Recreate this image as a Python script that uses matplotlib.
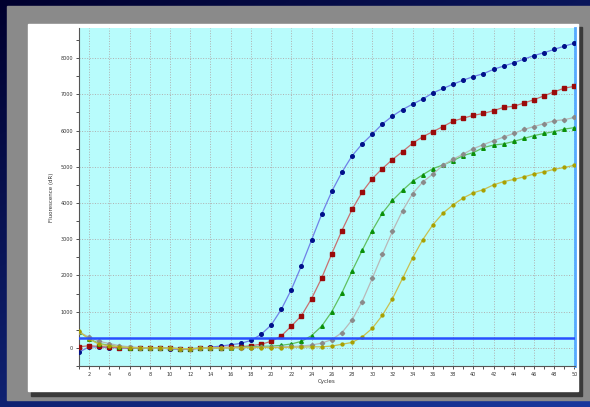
import numpy as np
import matplotlib
matplotlib.use("Agg")
import matplotlib.pyplot as plt
from matplotlib.patches import Rectangle

cycles = list(range(1, 51))

blue = [-120, 30, 20, 10, 0, -10, 0, 10, 0, -30, -40, -30, -10, 20, 50, 85, 125, 205, 370, 630,
        1060, 1610, 2270, 2980, 3690, 4320, 4850, 5300, 5630, 5900, 6180, 6400, 6580, 6730, 6870,
        7040, 7160, 7280, 7390, 7490, 7570, 7690, 7780, 7870, 7970, 8070, 8150, 8240, 8330, 8410]
red = [30, 60, 40, 20, 10, -10, 0, 0, 10, -10, -20, -30, -10, 0, 10, 20, 30, 60, 100, 180,
       330, 600, 890, 1360, 1930, 2600, 3240, 3820, 4300, 4670, 4950, 5200, 5420, 5650, 5830,
       5970, 6110, 6260, 6340, 6420, 6470, 6550, 6640, 6670, 6760, 6850, 6960, 7070, 7170, 7220]
green = [450, 250, 120, 70, 30, 10, 0, 0, 0, -10, -20, -20, -10, 0, 0, 10, 20, 30, 40, 50,
         70, 110, 180, 340, 600, 1000, 1520, 2120, 2690, 3240, 3720, 4070, 4350, 4600, 4780,
         4950, 5050, 5170, 5310, 5390, 5530, 5600, 5630, 5700, 5780, 5860, 5920, 5970, 6040, 6080]
gray = [430, 300, 180, 120, 60, 30, 10, 0, 0, -10, -20, -20, -10, 0, 0, 10, 10, 10, 20, 20,
        30, 40, 50, 80, 130, 230, 420, 770, 1280, 1920, 2580, 3220, 3790, 4260, 4580,
        4800, 5040, 5210, 5350, 5500, 5610, 5720, 5820, 5920, 6030, 6110, 6190, 6270, 6300, 6360]
olive = [460, 240, 100, 60, 30, 10, 0, 0, 0, -10, -20, -20, -10, 0, 0, 0, 10, 10, 10, 10,
         10, 20, 20, 30, 30, 50, 100, 150, 300, 540, 900, 1360, 1920, 2490, 2990,
         3400, 3720, 3950, 4140, 4280, 4370, 4500, 4590, 4650, 4720, 4800, 4860, 4930, 4980, 5040]
threshold = 270

W, H = 590, 407
fig = plt.figure(figsize=(W / 100, H / 100), dpi=100)

# background gradient
bg = fig.add_axes([0, 0, 1, 1])
yy = np.linspace(0, 1, 200)[:, None]
xx = np.linspace(0, 1, 200)[None, :]
grad = np.clip(0.6 * yy + 0.4 * xx, 0, 1)
c0 = np.array([0.0, 0.0, 0.18])
c1 = np.array([0.10, 0.22, 0.62])
img = c0[None, None, :] * (1 - grad[..., None]) + c1[None, None, :] * grad[..., None]
bg.imshow(img, extent=[0, W, H, 0], aspect='auto', origin='upper')
bg.set_xlim(0, W)
bg.set_ylim(H, 0)
bg.axis('off')
bg.add_patch(Rectangle((7, 6), 583, 394, color='#8a8a8a', zorder=2))
bg.add_patch(Rectangle((31, 27), 551, 369, color='#3a3a3a', zorder=3))
bg.add_patch(Rectangle((28, 24), 550, 367, color='white', zorder=4))

left, right, top, bottom = 78.5, 575, 28, 366
ax = fig.add_axes([left / W, (H - bottom) / H, (right - left) / W, (bottom - top) / H])
ax.set_facecolor('#b8fcfc')

series = [
    (blue, '#6f80e8', '#00108a', 'o', 2.6),
    (red, '#c87070', '#9a0a0a', 's', 2.4),
    (green, '#60c060', '#0a900a', '^', 2.6),
    (gray, '#b8b8b8', '#8a8a8a', 'D', 2.2),
    (olive, '#c8c050', '#a8a000', 'o', 2.1),
]
for vals, lc, mc, mk, ms in series:
    ax.plot(cycles, vals, color=lc, lw=0.9, marker=mk, ms=ms,
            mfc=mc, mec=mc, zorder=3)

ax.axhline(threshold, color='#2850ff', lw=1.8, zorder=4)

ax.set_xlim(0.95, 50.05)
ax.set_ylim(-480, 8830)
ax.set_xticks(range(2, 51, 2))
ax.set_xticks(range(1, 51), minor=True)
ax.set_yticks(range(0, 8001, 1000))
ax.set_yticks(range(-500, 8801, 500), minor=True)
ax.grid(True, which='major', color='#b0b0b0', ls=':', lw=0.7, zorder=1)
ax.tick_params(axis='both', which='both', labelsize=3.5, colors='#333333',
               length=2, width=0.6, pad=2)
ax.set_xlabel('Cycles', fontsize=4, color='#333333', labelpad=2)
ax.set_ylabel('Fluorescence (dR)', fontsize=4, color='#333333', labelpad=5)
ax.spines['top'].set_visible(False)
ax.spines['right'].set_color('#55aaff')
ax.spines['right'].set_linewidth(2)
ax.spines['left'].set_color('#555555')
ax.spines['bottom'].set_color('#555555')

fig.savefig('out.png', dpi=100)
